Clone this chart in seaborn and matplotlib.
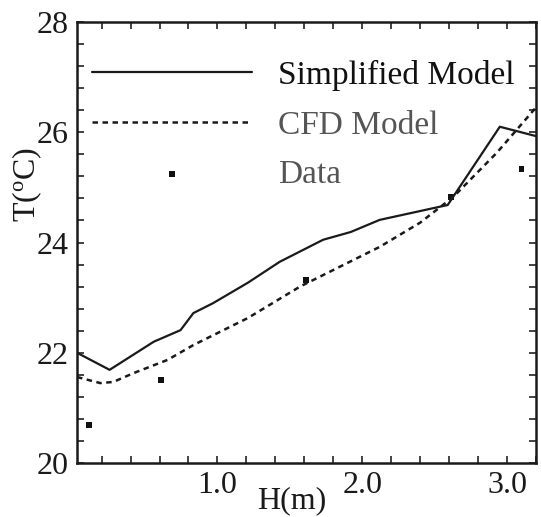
import matplotlib
matplotlib.use("Agg")
import matplotlib.pyplot as plt
import seaborn as sns
import pandas as pd
from matplotlib.ticker import MultipleLocator

# Data
simp_h = [0.03, 0.255, 0.56, 0.745, 0.834, 0.97, 1.21, 1.43, 1.73, 1.92, 2.12, 2.59, 2.95, 3.2]
simp_t = [22.0, 21.69, 22.2, 22.41, 22.72, 22.9, 23.27, 23.65, 24.05, 24.19, 24.41, 24.68, 26.1, 25.93]

cfd_h = [0.03, 0.19, 0.28, 0.42, 0.655, 0.834, 1.21, 1.57, 2.12, 2.4, 2.63, 2.93, 3.2]
cfd_t = [21.56, 21.45, 21.47, 21.63, 21.87, 22.14, 22.63, 23.2, 23.92, 24.36, 24.83, 25.63, 26.45]

data_h = [0.11, 0.61, 1.61, 2.61, 3.1]
data_t = [20.69, 21.5, 23.32, 24.83, 25.33]

labels = ["Simplified Model", "CFD Model", "Data"]
xticks = [1.0, 2.0, 3.0]
xticklabels = ["1.0", "2.0", "3.0"]
yticks = [20, 22, 24, 26, 28]

sns.set_theme(style="white")
plt.rcParams["font.family"] = ["Liberation Serif", "DejaVu Serif"]
plt.rcParams["mathtext.fontset"] = "custom"
plt.rcParams["mathtext.rm"] = "Liberation Serif"
plt.rcParams["mathtext.it"] = "Liberation Serif:italic"

fig = plt.figure(figsize=(5.41, 5.17), dpi=100)
ax = fig.add_axes([77 / 541, 1 - 463 / 517, (536 - 77) / 541, (463 - 22) / 517])

df_s = pd.DataFrame({"H": simp_h, "T": simp_t})
df_c = pd.DataFrame({"H": cfd_h, "T": cfd_t})
df_d = pd.DataFrame({"H": data_h, "T": data_t})

sns.lineplot(data=df_s, x="H", y="T", sort=False, color="#1a1a1a", lw=1.6,
             ax=ax, label=labels[0])
sns.lineplot(data=df_c, x="H", y="T", sort=False, color="#1a1a1a", lw=1.8,
             linestyle=(0, (2.2, 1.8)), ax=ax, label=labels[1])
sns.scatterplot(data=df_d, x="H", y="T", marker="s", s=18, color="#111111",
                edgecolor="none", ax=ax, label=labels[2])

ax.set_xlim(0.03, 3.2)
ax.set_ylim(20, 28)
ax.set_xticks(xticks)
ax.set_xticklabels(xticklabels)
ax.set_yticks(yticks)
ax.xaxis.set_minor_locator(MultipleLocator(0.2))
ax.yaxis.set_minor_locator(MultipleLocator(0.4))
ax.tick_params(which="both", direction="in", top=True, right=True,
               bottom=True, left=True, length=5, width=1.2, color="#222222")
ax.tick_params(axis="both", which="major", labelsize=23, pad=6, labelcolor="#1a1a1a")

for s in ax.spines.values():
    s.set_visible(True)
    s.set_color("#1a1a1a")
    s.set_linewidth(1.8)

ax.set_xlabel("H(m)", fontsize=23, color="#1a1a1a")
ax.set_ylabel(r"T($\mathregular{^o}$C)", fontsize=23, color="#1a1a1a")
ax.xaxis.set_label_coords((292 - 77) / 459, -(486 - 463) / 441)
ax.yaxis.set_label_coords(-(77 - 44) / 459, (463 - 184) / 441)

leg = ax.legend(loc="upper left", bbox_to_anchor=((92 - 77) / 459, (463 - 60) / 441),
                frameon=False, fontsize=24, handlelength=4.8, handletextpad=0.78,
                labelspacing=0.57, borderaxespad=0.0, borderpad=0.0, numpoints=1)
for txt, c in zip(leg.get_texts(), ["#111111", "#555555", "#555555"]):
    txt.set_color(c)

fig.savefig("out.png", dpi=100)
